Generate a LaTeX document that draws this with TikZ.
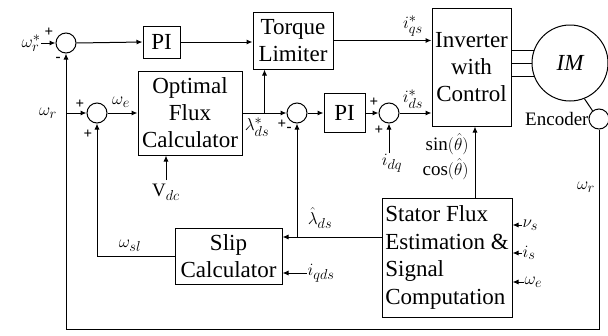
\documentclass[tikz,border=0pt]{standalone}
\usepackage{fontspec}
\setmainfont{Liberation Serif}
\usetikzlibrary{arrows.meta,calc}
\begin{document}
\begin{tikzpicture}[x=1pt,y=-1pt, line width=1pt,
  blk/.style={draw, rectangle, inner sep=0pt, align=center, font=\fontsize{23}{27}\selectfont},
  sumc/.style={draw, circle, minimum size=20pt, inner sep=0pt},
  lbl/.style={font=\fontsize{19}{22}\selectfont, inner sep=0pt},
  sgn/.style={font=\fontsize{15}{16}\selectfont\bfseries, inner sep=0pt},
  arr/.style={-{Latex[length=6pt,width=5pt]}}]
\useasboundingbox (0,0) rectangle (608,335);

% blocks
\node[sumc] (s1) at (66,43) {};
\node[blk, minimum width=37pt, minimum height=32pt] (pi1) at (161.5,42) {PI};
\node[blk, minimum width=80pt, minimum height=57pt] (tl) at (293,40.5) {Torque\\Limiter};
\node[blk, minimum width=79pt, minimum height=118pt] (inv) at (471.5,67) {Inverter\\with\\Control};
\node[draw, circle, minimum size=76pt, inner sep=0pt, font=\fontsize{23}{26}\selectfont\itshape] (im) at (570,63) {IM};
\node[draw, circle, minimum size=20pt, inner sep=0pt] (enc) at (599,119) {};
\node[lbl, anchor=east] (enct) at (589,119) {Encoder};

\node[sumc] (s2) at (97,113) {};
\node[blk, minimum width=104pt, minimum height=84pt] (ofc) at (190,113) {Optimal\\Flux\\Calculator};
\node[sumc] (s3) at (297,113) {};
\node[blk, minimum width=41pt, minimum height=39pt] (pi2) at (344.5,113) {PI};
\node[sumc] (s4) at (389,113) {};
\node[blk, minimum width=107pt, minimum height=56pt] (slip) at (228.5,256) {Slip\\Calculator};
\node[blk, minimum width=130pt, minimum height=119pt, align=left, font=\fontsize{23}{27.5}\selectfont] (sfe) at (447,257.5) {Stator Flux\\Estimation \&\\Signal\\Computation};

% labels
\node[lbl, anchor=east] (wrs) at (41,43) {$\omega_r^*$};
\node[lbl] (wr1) at (48,113) {$\omega_r$};
\node[lbl] (we1) at (121,102) {$\omega_e$};
\node[lbl] (vdc) at (166,192) {V$_{dc}$};
\node[lbl] (lds) at (257,127) {$\lambda^*_{ds}$};
\node[lbl] (iqs) at (413,26) {$i^*_{qs}$};
\node[lbl] (ids) at (413,99) {$i^*_{ds}$};
\node[lbl] (idq) at (392,163) {$i_{dq}$};
\node[lbl, anchor=east] (sin) at (469,144) {$\sin(\hat\theta)$};
\node[lbl, anchor=east] (cos) at (469,169) {$\cos(\hat\theta)$};
\node[lbl] (lhat) at (320,218) {$\hat\lambda_{ds}$};
\node[lbl, anchor=west] (iqds) at (307,273) {$i_{qds}$};
\node[lbl] (wsl) at (130,246) {$\omega_{sl}$};
\node[lbl] (wr2) at (586,187) {$\omega_r$};
\node[lbl, anchor=west] (vs) at (522,225) {$\nu_s$};
\node[lbl, anchor=west] (is) at (522,253) {$i_s$};
\node[lbl, anchor=west] (we2) at (524,282) {$\omega_e$};

% signs
\node[sgn] (p1) at (49,32) {+};
\node[sgn] (m1) at (58,59) {-};
\node[sgn] (p2) at (80,104) {+};
\node[sgn] (p3) at (88,134) {+};
\node[sgn] (p4) at (282,124) {+};
\node[sgn] (m4) at (289,129) {-};
\node[sgn] (p5) at (374,102) {+};
\node[sgn] (p6) at (379,130) {+};

% coordinates
\coordinate (bl) at (66,329);
\coordinate (jt) at (264.5,113);
\coordinate (sfeo) at (382,237);
\coordinate (sfet) at (475,198);
\coordinate (idqt) at (389,153);
\coordinate (vdct) at (166,180);

% connectors
\draw[arr] (wrs.east) -- (s1.west);
\draw[arr] (s1.east) -- (pi1.west);
\draw[arr] (pi1.east) -- (pi1.east -| tl.west);
\draw[arr] (tl.east) -- (tl.east -| inv.west);
\draw[arr] (s1.south |- s2.west) -- (s2.west);
\draw[arr] (s2.east) -- (ofc.west);
\draw[arr] (vdct) -- (vdct |- ofc.south);
\draw[arr] (ofc.east) -- (s3.west);
\draw[arr] (jt) -- (jt |- tl.south);
\draw[arr] (s3.east) -- (pi2.west);
\draw[arr] (pi2.east) -- (s4.west);
\draw[arr] (s4.east) -- (s4.east -| inv.west);
\draw[arr] (idqt) -- (s4.south);
\draw[arr] (sfet) -- (sfet |- inv.south);
\draw[arr] (sfeo) -- (sfeo -| slip.east);
\draw[arr] (sfeo -| s3.south) -- (s3.south);
\draw[arr] (iqds.west) -- (iqds.west -| slip.east);
\draw[arr] (slip.west) -| (s2.south);
\draw[arr] (vs.west) -- (vs.west -| sfe.east);
\draw[arr] (is.west) -- (is.west -| sfe.east);
\draw[arr] (we2.west) -- (we2.west -| sfe.east);
\draw (im.161.6 -| inv.east) -- (im.161.6);
\draw (im.180 -| inv.east) -- (im.180);
\draw (im.201.6 -| inv.east) -- (im.201.6);
\draw (im.292) -- (enc.128);
\draw[arr] (enc.south) |- (bl) -- (s1.south);
\end{tikzpicture}
\end{document}
